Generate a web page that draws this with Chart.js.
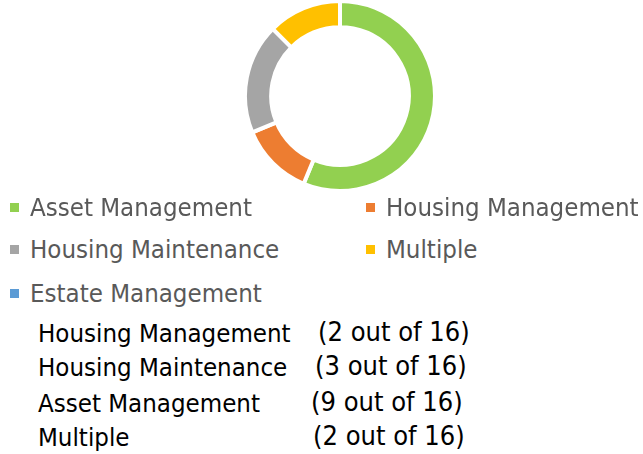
<!DOCTYPE html>
<html>
<head>
<meta charset="utf-8">
<script src="https://cdn.jsdelivr.net/npm/chart.js@4/dist/chart.umd.min.js"></script>
<style>
  html, body { margin: 0; padding: 0; background: #fff; }
  #wrap { position: relative; width: 643px; height: 454px; overflow: hidden; font-family: "DejaVu Sans Condensed", "DejaVu Sans", sans-serif; }
  #cv { position: absolute; left: 240px; top: -4px; width: 200px; height: 200px; }
  .leg { position: absolute; font-size: 25.6px; color: #595959; line-height: 30px; white-space: nowrap; }
  .leg .box { position: absolute; left: 0; top: 11px; width: 9px; height: 9px; }
  .leg .txt { position: absolute; left: 20px; top: 0; }
  .row { position: absolute; font-size: 25.6px; color: #000; line-height: 30px; white-space: nowrap; }
  .row.val { font-size: 27px; }
</style>
</head>
<body>
<div id="wrap">
  <canvas id="cv" width="200" height="200"></canvas>
</div>
<script>
const categories = ["Asset Management", "Housing Management", "Housing Maintenance", "Multiple", "Estate Management"];
const counts = [9, 2, 3, 2, 0];
const colors = ["#92D050", "#ED7D31", "#A5A5A5", "#FFC000", "#5B9BD5"];
const summaryOrder = ["Housing Management", "Housing Maintenance", "Asset Management", "Multiple"];
const total = 16;

new Chart(document.getElementById('cv'), {
  type: 'doughnut',
  data: {
    labels: categories,
    datasets: [{ data: counts, backgroundColor: colors, borderColor: '#fff', borderWidth: 4 }]
  },
  options: {
    responsive: false,
    animation: false,
    radius: 95,
    cutout: 71,
    plugins: { legend: { display: false }, tooltip: { enabled: false } }
  }
});

const wrap = document.getElementById('wrap');
const legPos = [[10, 192], [366, 192], [10, 234], [366, 234], [10, 278]];
categories.forEach((c, i) => {
  const d = document.createElement('div');
  d.className = 'leg';
  d.style.left = legPos[i][0] + 'px';
  d.style.top = legPos[i][1] + 'px';
  d.innerHTML = '<div class="box" style="background:' + colors[i] + '"></div><div class="txt">' + c + '</div>';
  wrap.appendChild(d);
});
const rowTops = [318, 352, 388, 422];
const valueLeft = [318, 315, 311, 313];
summaryOrder.forEach((c, i) => {
  const n = counts[categories.indexOf(c)];
  const a = document.createElement('div');
  a.className = 'row';
  a.style.left = '38px';
  a.style.top = rowTops[i] + 'px';
  a.textContent = c;
  wrap.appendChild(a);
  const b = document.createElement('div');
  b.className = 'row val';
  b.style.left = valueLeft[i] + 'px';
  b.style.top = (rowTops[i] - 1) + 'px';
  b.textContent = '(' + n + ' out of ' + total + ')';
  wrap.appendChild(b);
});
</script>
</body>
</html>
